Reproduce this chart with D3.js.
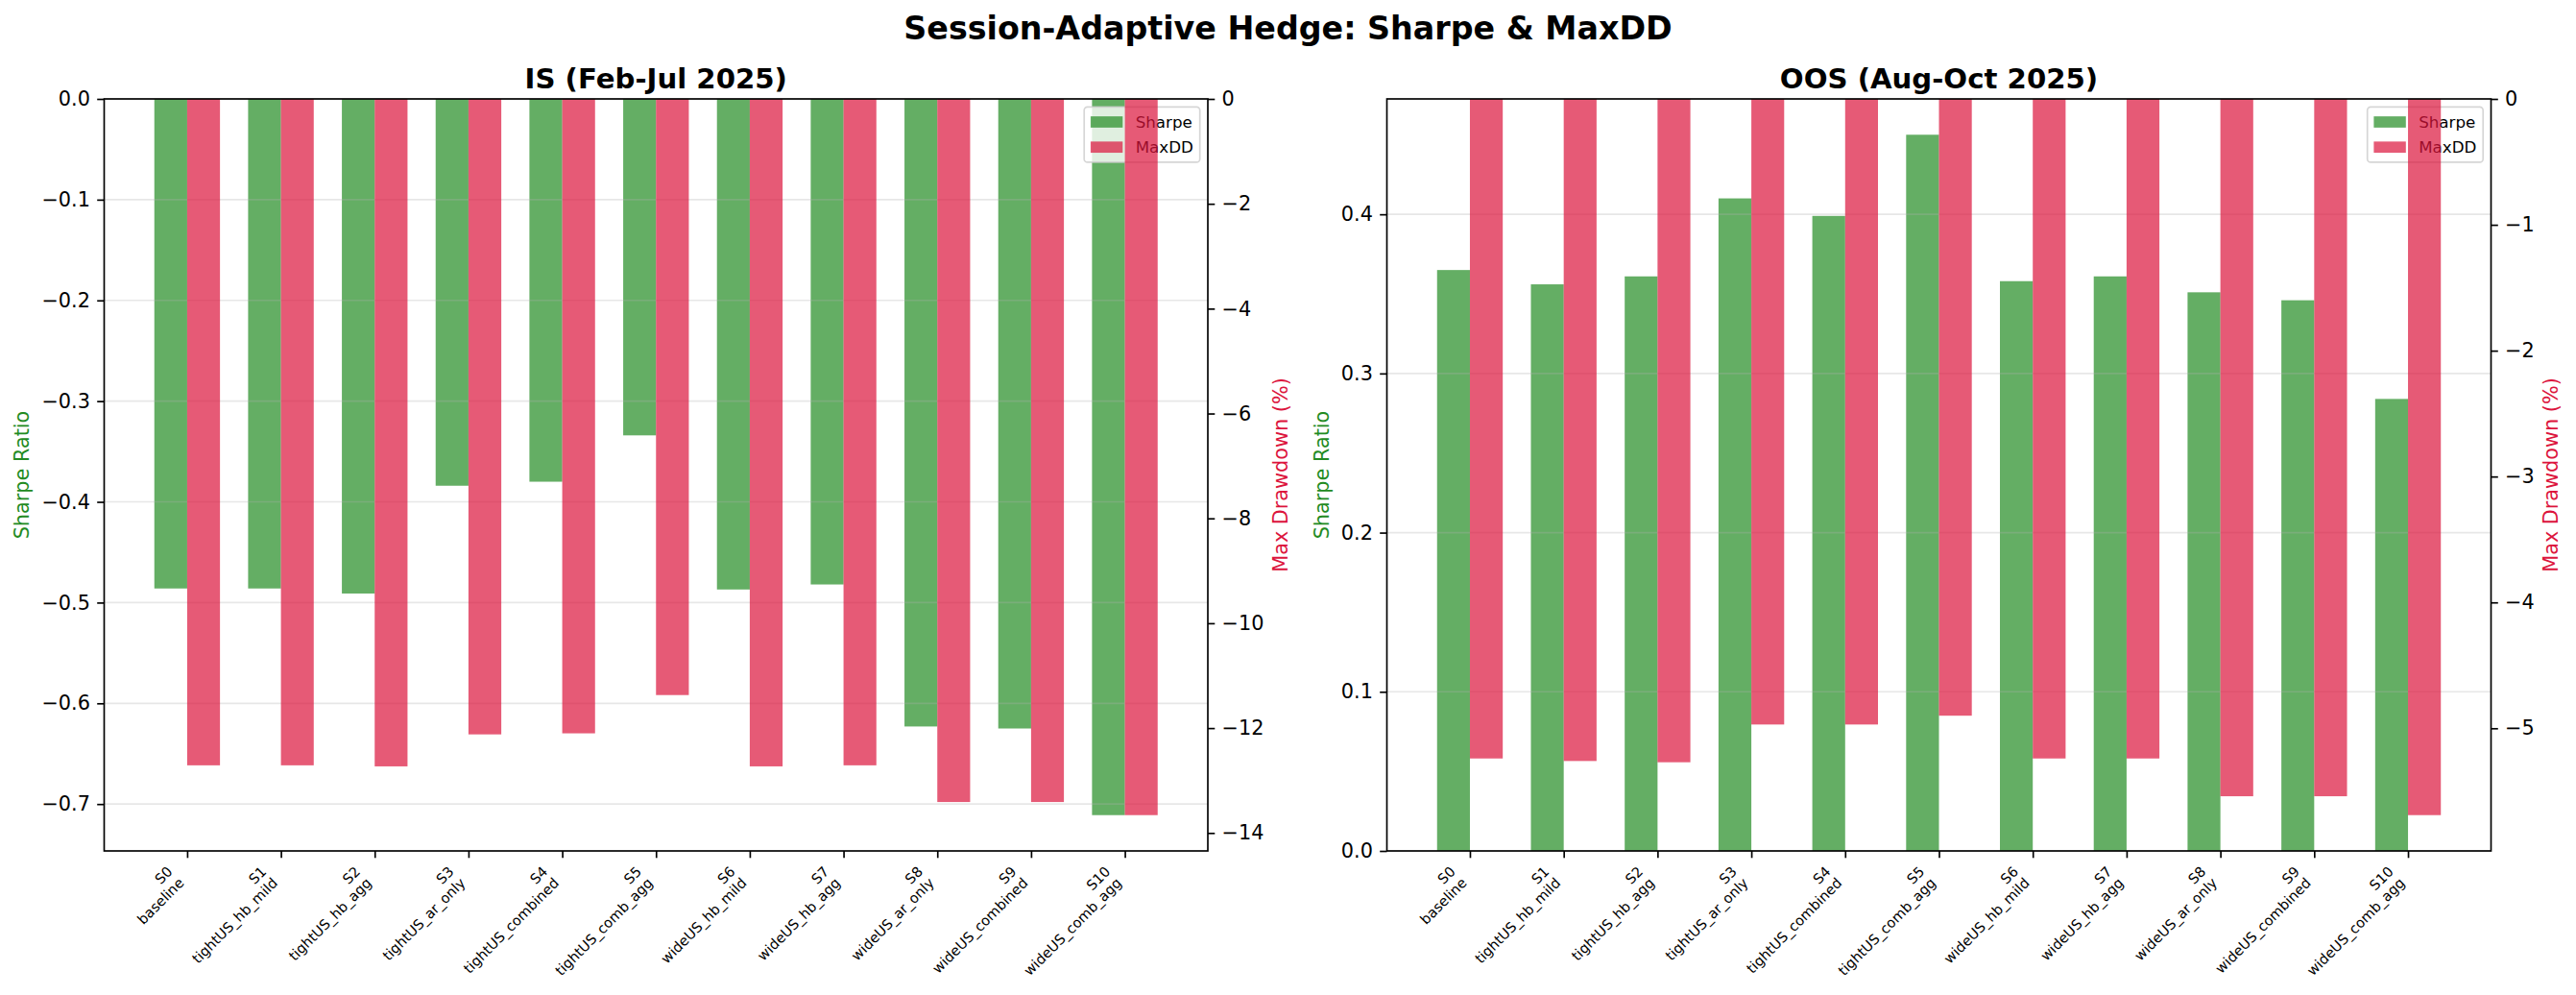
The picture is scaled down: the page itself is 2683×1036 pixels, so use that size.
<!DOCTYPE html>
<html>
<head>
<meta charset="utf-8">
<script src="https://cdn.jsdelivr.net/npm/d3@7"></script>
<style>
  body { margin: 0; background: #fff; }
  svg { display: block; font-family: "DejaVu Sans", sans-serif; }
</style>
</head>
<body>
<div id="chart"></div>
<script>
// strategies
const strategyIds = ['S0', 'S1', 'S2', 'S3', 'S4', 'S5', 'S6', 'S7', 'S8', 'S9', 'S10'];
const strategyNames = ['baseline', 'tightUS_hb_mild', 'tightUS_hb_agg', 'tightUS_ar_only', 'tightUS_combined',
    'tightUS_comb_agg', 'wideUS_hb_mild', 'wideUS_hb_agg', 'wideUS_ar_only', 'wideUS_combined', 'wideUS_comb_agg'];

// in-sample (Feb-Jul 2025)
const isSharpe = [-0.486, -0.486, -0.491, -0.384, -0.380, -0.334, -0.487, -0.482, -0.623, -0.625, -0.711];
const isMaxDD = [-12.71, -12.71, -12.73, -12.12, -12.10, -11.37, -12.73, -12.71, -13.41, -13.41, -13.66];

// out-of-sample (Aug-Oct 2025)
const oosSharpe = [0.365, 0.356, 0.361, 0.410, 0.399, 0.450, 0.358, 0.361, 0.351, 0.346, 0.284];
const oosMaxDD = [-5.24, -5.26, -5.27, -4.97, -4.97, -4.90, -5.24, -5.24, -5.54, -5.54, -5.69];

// tick values
const isSharpeTicks = [0, -0.1, -0.2, -0.3, -0.4, -0.5, -0.6, -0.7];
const isDDTicks = [0, -2, -4, -6, -8, -10, -12, -14];
const oosSharpeTicks = [0, 0.1, 0.2, 0.3, 0.4];
const oosDDTicks = [0, -1, -2, -3, -4, -5];

const width = 2683;
const height = 1036;
const plotTop = 103;
const plotBottom = 886;
const green = '#228b22';
const red = '#dc143c';
const fsTick = 20.8;
const fsSmall = 16.7;
const fsX = 14.58;
const tickLen = 7.3;
const tickPad = 7.3;
const lw = 1.67;

const svg = d3.select('#chart').append('svg')
    .attr('width', width)
    .attr('height', height)
    .attr('viewBox', `0 0 ${width} ${height}`);

svg.append('text')
    .attr('x', width / 2)
    .attr('y', 40.5)
    .attr('text-anchor', 'middle')
    .attr('font-size', 33.3)
    .attr('font-weight', 'bold')
    .text('Session-Adaptive Hedge: Sharpe & MaxDD');

// matplotlib-like autoscale: 5% margin, stuck at zero for bars
function padDomain(values) {
    const lo = Math.min(0, d3.min(values));
    const hi = Math.max(0, d3.max(values));
    const p = (hi - lo) * 0.05;
    return [lo < 0 ? lo - p : 0, hi > 0 ? hi + p : 0];
}

function styleAxis(g) {
    g.attr('font-size', fsTick).attr('font-family', '"DejaVu Sans", sans-serif');
    g.selectAll('.tick line').attr('stroke', '#000').attr('stroke-width', lw);
    g.selectAll('.tick text').attr('fill', '#000');
    g.select('.domain').remove();
}

function maxLabelWidth(g) {
    let w = 0;
    g.selectAll('.tick text').each(function () {
        w = Math.max(w, this.getComputedTextLength());
    });
    return w;
}

function drawPanel(cfg) {
    const n = strategyIds.length;
    const barW = 0.35;
    const lo = -barW, hi = n - 1 + barW;
    const xPad = (hi - lo) * 0.05;

    const x = d3.scaleLinear().domain([lo - xPad, hi + xPad]).range([cfg.left, cfg.right]);
    const yS = d3.scaleLinear().domain(padDomain(cfg.sharpe)).range([plotBottom, plotTop]);
    const yD = d3.scaleLinear().domain(padDomain(cfg.maxdd)).range([plotBottom, plotTop]);

    const panel = svg.append('g');

    // Sharpe bars (left axis)
    panel.append('g').selectAll('rect')
        .data(cfg.sharpe)
        .join('rect')
        .attr('x', (d, i) => x(i - barW))
        .attr('width', (d, i) => x(i) - x(i - barW))
        .attr('y', d => Math.min(yS(0), yS(d)))
        .attr('height', d => Math.abs(yS(d) - yS(0)))
        .attr('fill', green)
        .attr('fill-opacity', 0.7);

    // horizontal grid from the Sharpe axis
    panel.append('g').selectAll('line')
        .data(cfg.sharpeTicks)
        .join('line')
        .attr('x1', cfg.left)
        .attr('x2', cfg.right)
        .attr('y1', d => yS(d))
        .attr('y2', d => yS(d))
        .attr('stroke', '#b0b0b0')
        .attr('stroke-opacity', 0.3)
        .attr('stroke-width', lw);

    // legend (sits under the MaxDD bars, like the twin axis in the original)
    const legW = 120.5, legH = 57.6;
    const legX = cfg.right - 8.3 - legW;
    const legY = plotTop + 8.3;
    const leg = panel.append('g').attr('transform', `translate(${legX},${legY})`);
    leg.append('rect')
        .attr('width', legW)
        .attr('height', legH)
        .attr('rx', 3.5)
        .attr('fill', '#fff')
        .attr('fill-opacity', 0.8)
        .attr('stroke', '#cccccc')
        .attr('stroke-opacity', 0.8)
        .attr('stroke-width', lw);
    const legItems = [{ label: 'Sharpe', color: green }, { label: 'MaxDD', color: red }];
    legItems.forEach((item, k) => {
        const cy = 15.7 + k * 26.2;
        leg.append('rect')
            .attr('x', 6.7)
            .attr('y', cy - 5.85)
            .attr('width', 33.4)
            .attr('height', 11.7)
            .attr('fill', item.color)
            .attr('fill-opacity', 0.7);
        leg.append('text')
            .attr('x', 6.7 + 33.4 + 13.4)
            .attr('y', cy + 5.9)
            .attr('font-size', fsSmall)
            .attr('fill', '#000')
            .text(item.label);
    });

    // MaxDD bars (right axis)
    panel.append('g').selectAll('rect')
        .data(cfg.maxdd)
        .join('rect')
        .attr('x', (d, i) => x(i))
        .attr('width', (d, i) => x(i + barW) - x(i))
        .attr('y', d => Math.min(yD(0), yD(d)))
        .attr('height', d => Math.abs(yD(d) - yD(0)))
        .attr('fill', red)
        .attr('fill-opacity', 0.7);

    // axes
    const axL = panel.append('g')
        .attr('transform', `translate(${cfg.left},0)`)
        .call(d3.axisLeft(yS).tickValues(cfg.sharpeTicks).tickFormat(d3.format('.1f'))
            .tickSize(tickLen).tickPadding(tickPad).tickSizeOuter(0));
    styleAxis(axL);

    const axR = panel.append('g')
        .attr('transform', `translate(${cfg.right},0)`)
        .call(d3.axisRight(yD).tickValues(cfg.ddTicks).tickFormat(d3.format('d'))
            .tickSize(tickLen).tickPadding(tickPad).tickSizeOuter(0));
    styleAxis(axR);

    const axB = panel.append('g')
        .attr('transform', `translate(0,${plotBottom})`)
        .call(d3.axisBottom(x).tickValues(d3.range(n)).tickFormat('')
            .tickSize(tickLen).tickSizeOuter(0));
    styleAxis(axB);

    // rotated two-line category labels: rotated box's top-right corner on the tick
    const y0 = plotBottom + tickLen + tickPad;
    const c = Math.SQRT1_2;
    const lineGap = 1.148 * fsX;
    const boxTop = -0.76 * fsX;
    const boxBottom = lineGap + 0.236 * fsX;
    strategyIds.forEach((id, i) => {
        const ox = x(i) - c * boxBottom;
        const oy = y0 - c * boxTop;
        const t = panel.append('text')
            .attr('text-anchor', 'end')
            .attr('font-size', fsX)
            .attr('fill', '#000')
            .attr('transform', `translate(${ox},${oy}) rotate(-45)`);
        t.append('tspan').attr('x', 0).attr('y', 0).text(id);
        t.append('tspan').attr('x', 0).attr('y', lineGap).text(strategyNames[i]);
    });

    // frame
    panel.append('rect')
        .attr('x', cfg.left)
        .attr('y', plotTop)
        .attr('width', cfg.right - cfg.left)
        .attr('height', plotBottom - plotTop)
        .attr('fill', 'none')
        .attr('stroke', '#000')
        .attr('stroke-width', lw);

    // titles / axis labels
    panel.append('text')
        .attr('x', (cfg.left + cfg.right) / 2)
        .attr('y', 91.5)
        .attr('text-anchor', 'middle')
        .attr('font-size', 29.2)
        .attr('font-weight', 'bold')
        .text(cfg.title);

    const midY = (plotTop + plotBottom) / 2;
    const lx = cfg.left - tickLen - tickPad - maxLabelWidth(axL) - 8.3 - 0.236 * fsTick;
    panel.append('text')
        .attr('transform', `translate(${lx},${midY}) rotate(-90)`)
        .attr('text-anchor', 'middle')
        .attr('font-size', fsTick)
        .attr('fill', green)
        .text('Sharpe Ratio');

    const rx = cfg.right + tickLen + tickPad + maxLabelWidth(axR) + 8.3 + 0.76 * fsTick;
    panel.append('text')
        .attr('transform', `translate(${rx},${midY}) rotate(-90)`)
        .attr('text-anchor', 'middle')
        .attr('font-size', fsTick)
        .attr('fill', red)
        .text('Max Drawdown (%)');
}

drawPanel({
    left: 108.5, right: 1258,
    title: 'IS (Feb-Jul 2025)',
    sharpe: isSharpe, maxdd: isMaxDD,
    sharpeTicks: isSharpeTicks, ddTicks: isDDTicks
});

drawPanel({
    left: 1444.5, right: 2594.5,
    title: 'OOS (Aug-Oct 2025)',
    sharpe: oosSharpe, maxdd: oosMaxDD,
    sharpeTicks: oosSharpeTicks, ddTicks: oosDDTicks
});
</script>
</body>
</html>
